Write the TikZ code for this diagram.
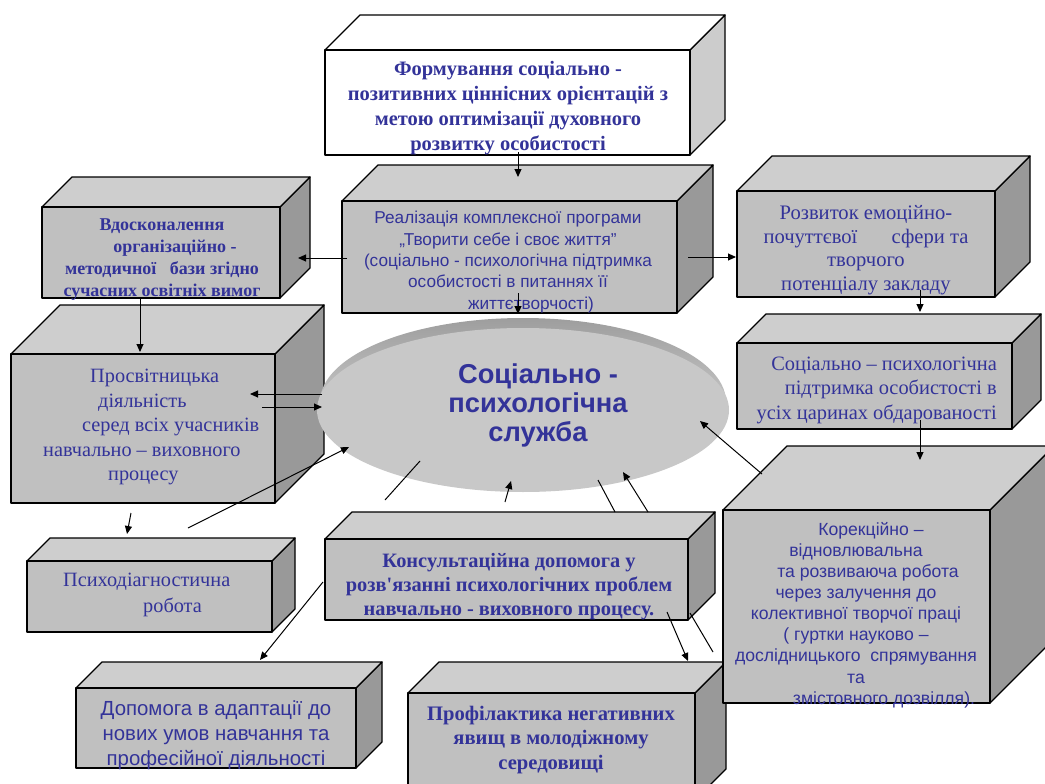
\documentclass[tikz,border=0pt]{standalone}
\usepackage{fontspec}
\setmainfont{Liberation Serif}[Ligatures=TeXOff]
\setsansfont{Liberation Sans}[Ligatures=TeXOff]
\usetikzlibrary{arrows.meta}
\definecolor{txtblue}{RGB}{51,51,153}
\definecolor{facefront}{RGB}{192,192,192}
\definecolor{facetop}{RGB}{206,206,206}
\definecolor{faceside}{RGB}{153,153,153}
\definecolor{whiteside}{RGB}{204,204,204}
\definecolor{ellface}{RGB}{200,200,200}
\definecolor{ellrim}{RGB}{158,158,158}
\newcommand\cubeshape[6]{%
  \filldraw[#6side] (#3,#2) -- ({#3+#5},{#2-#5}) -- ({#3+#5},{#4-#5}) -- (#3,#4) -- cycle;
  \filldraw[#6top] (#1,#2) -- ({#1+#5},{#2-#5}) -- ({#3+#5},{#2-#5}) -- (#3,#2) -- cycle;
  \filldraw[#6front] (#1,#2) rectangle (#3,#4);
}
\tikzset{
  edge/.style={draw=black,line width=1.3pt,line join=round},
  gside/.style={edge,fill=faceside},
  gtop/.style={edge,fill=facetop},
  gfront/.style={edge,fill=facefront},
  wside/.style={edge,fill=whiteside},
  wtop/.style={edge,fill=white},
  wfront/.style={edge,fill=white},
  txt/.style={text=txtblue,inner sep=0pt,align=center},
  arr/.style={draw=black,line width=1pt,-{Triangle[length=8pt,width=7pt]}},
  ln/.style={draw=black,line width=1pt},
}
\begin{document}
\begin{tikzpicture}[x=1pt,y=-1pt]
\useasboundingbox (0,0) rectangle (1045,784);
\clip (0,0) rectangle (1045,784);
\fill[white] (0,0) rectangle (1045,784);

% boxes
\cubeshape{325}{50}{690}{155}{35}{w}
\cubeshape{42}{207}{280}{298}{30}{g}
\cubeshape{342}{201}{677}{313}{36}{g}
\cubeshape{737}{191}{995}{297}{35}{g}
\cubeshape{737}{343}{1012}{429}{29}{g}
\cubeshape{11}{354}{275}{503}{49}{g}
\cubeshape{27}{561}{272}{632}{23}{g}
\cubeshape{325}{539}{688}{620}{27}{g}
\cubeshape{408}{693}{695}{800}{31}{g}
\cubeshape{723}{510}{990}{703}{64}{g}
\cubeshape{76}{688}{356}{768}{26}{g}

% ellipse
\shade[top color=ellrim,bottom color=ellface,middle color=ellface!90!ellrim] (523,402) ellipse [x radius=203, y radius=84];
\fill[ellface] (523,410) ellipse [x radius=206, y radius=82];

% texts
\node[txt,font=\bfseries\fontsize{20.5}{25}\selectfont] (tform) at (508,108)
 {Формування соціально -\\позитивних ціннісних орієнтацій з\\метою оптимізації духовного\\розвитку особистості};
\node[txt,font=\bfseries\fontsize{18}{22}\selectfont] (tvdos) at (162,260)
 {Вдосконалення\\\hspace*{26pt}організаційно -\\методичної \ \ бази згідно\\сучасних освітніх вимог};
\node[txt,font=\sffamily\fontsize{17.2}{21.3}\selectfont] (treal) at (508,262)
 {Реалізація комплексної програми\\„Творити себе і своє життя”\\(соціально - психологічна підтримка\\особистості в питаннях її\\\hspace*{46pt}життєтворчості)};
\node[txt,font=\fontsize{20.6}{23.5}\selectfont] (trozv) at (866,250)
 {Розвиток емоційно-\\почуттєвої \hspace{24pt} сфери та\\творчого\\потенціалу закладу};
\node[txt,align=right,anchor=east,font=\fontsize{20.4}{24.5}\selectfont] (tsoc) at (997,390)
 {Соціально – психологічна\\підтримка особистості в\\усіх царинах обдарованості};
\node[txt,align=left,anchor=west,font=\fontsize{20.3}{24.5}\selectfont] (tpros) at (43,427)
 {\hspace*{47pt}Просвітницька\\\hspace*{55pt}діяльність\\\hspace*{39pt}серед всіх учасників\\навчально – виховного\\\hspace*{65pt}процесу};
\node[txt,align=left,anchor=west,font=\fontsize{20.3}{26}\selectfont] (tpsy) at (63,595)
 {Психодіагностична\\\hspace*{80pt}робота};
\node[txt,font=\bfseries\fontsize{20.4}{24}\selectfont] (tkons) at (509,587)
 {Консультаційна допомога у\\розв'язанні психологічних проблем\\навчально - виховного процесу.};
\node[txt,font=\sffamily\fontsize{17.6}{21.1}\selectfont] (tkor) at (856,615)
 {\hspace*{30pt}Корекційно –\\відновлювальна\\\hspace*{24pt}та розвиваюча робота\\через залучення до\\колективної творчої праці\\( гуртки науково –\\дослідницького \ спрямування\\та\\\hspace*{56pt}змістовного дозвілля).};
\node[txt,font=\sffamily\fontsize{20.4}{25}\selectfont] (tdop) at (216,735)
 {Допомога в адаптації до\\нових умов навчання та\\професійної діяльності};
\node[txt,font=\bfseries\fontsize{20.6}{24.5}\selectfont] (tprof) at (551,740)
 {Профілактика негативних\\явищ в молодіжному\\середовищі};
\node[txt,font=\sffamily\bfseries\fontsize{27.3}{29}\selectfont] (tserv) at (538,405)
 {Соціально -\\психологічна\\служба};

% connector end points
\coordinate (c1a) at (518,152); \coordinate (c1b) at (518,177);
\coordinate (c2a) at (518,293); \coordinate (c2b) at (518,314);
\coordinate (c3a) at (347,258); \coordinate (c3b) at (298,258);
\coordinate (c4a) at (688,257); \coordinate (c4b) at (736,257);
\coordinate (c5a) at (920,290); \coordinate (c5b) at (920,312);
\coordinate (c6a) at (920,420); \coordinate (c6b) at (920,460);
\coordinate (c7a) at (140,298); \coordinate (c7b) at (140,352);
\coordinate (c8a) at (322,394); \coordinate (c8b) at (250,394);
\coordinate (c9a) at (262,407); \coordinate (c9b) at (322,407);
\coordinate (c10a) at (188,528); \coordinate (c10b) at (349,447);
\coordinate (c11a) at (131,513); \coordinate (c11b) at (127,534);
\coordinate (c12a) at (385,500); \coordinate (c12b) at (420,461);
\coordinate (c13a) at (505,502); \coordinate (c13b) at (511,481);
\coordinate (c14a) at (598,480); \coordinate (c14b) at (615,512);
\coordinate (c15a) at (648,512); \coordinate (c15b) at (623,472);
\coordinate (c16a) at (762,474); \coordinate (c16b) at (700,421);
\coordinate (c17a) at (323,582); \coordinate (c17b) at (260,660);
\coordinate (c18a) at (667,612); \coordinate (c18b) at (688,661);
\coordinate (c19a) at (690,613); \coordinate (c19b) at (713,652);

\draw[arr] (c1a) -- (c1b);
\draw[arr] (c2a) -- (c2b);
\draw[arr] (c3a) -- (c3b);
\draw[arr] (c4a) -- (c4b);
\draw[arr] (c5a) -- (c5b);
\draw[arr] (c6a) -- (c6b);
\draw[arr] (c7a) -- (c7b);
\draw[arr] (c8a) -- (c8b);
\draw[arr] (c9a) -- (c9b);
\draw[arr] (c10a) -- (c10b);
\draw[arr] (c11a) -- (c11b);
\draw[ln] (c12a) -- (c12b);
\draw[arr] (c13a) -- (c13b);
\draw[ln] (c14a) -- (c14b);
\draw[arr] (c15a) -- (c15b);
\draw[arr] (c16a) -- (c16b);
\draw[arr] (c17a) -- (c17b);
\draw[arr] (c18a) -- (c18b);
\draw[ln] (c19a) -- (c19b);
\end{tikzpicture}
\end{document}
